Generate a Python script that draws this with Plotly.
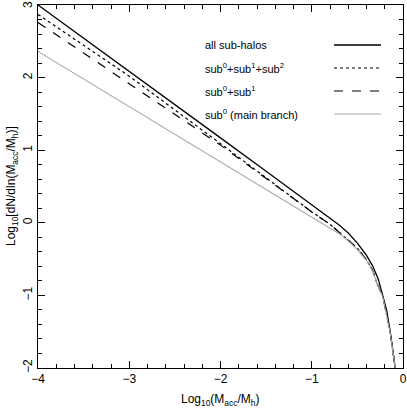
import plotly.graph_objects as go

# curves: log10(Macc/Mh) vs log10 dN/dln(Macc/Mh)
all_x = [-4.0, -3.0, -2.0, -1.5, -1.0, -0.8, -0.7, -0.6, -0.5, -0.4, -0.33, -0.27, -0.22, -0.18, -0.14, -0.11, -0.085]
all_y = [3.0, 2.09, 1.17, 0.71, 0.255, 0.07, -0.03, -0.14, -0.28, -0.45, -0.6, -0.78, -1.0, -1.2, -1.5, -1.75, -2.0]

sub012_x = [-4.0, -3.0, -2.0, -1.5, -1.0, -0.8, -0.62, -0.5, -0.4, -0.33, -0.29, -0.22, -0.14, -0.085]
sub012_y = [2.87, 2.02, 1.09, 0.62, 0.15, -0.02, -0.22, -0.35, -0.51, -0.66, -0.82, -1.02, -1.51, -2.0]

sub01_x = [-4.0, -3.0, -2.0, -1.5, -1.0, -0.8, -0.62, -0.5, -0.4, -0.33, -0.29, -0.22, -0.14, -0.085]
sub01_y = [2.76, 1.92, 1.07, 0.61, 0.15, -0.02, -0.22, -0.35, -0.51, -0.66, -0.82, -1.02, -1.51, -2.0]

sub0_x = [-4.0, -3.0, -2.0, -1.5, -1.0, -0.8, -0.7, -0.6, -0.5, -0.4, -0.33, -0.29, -0.22, -0.14, -0.085]
sub0_y = [2.36, 1.6, 0.84, 0.46, 0.08, -0.07, -0.15, -0.25, -0.37, -0.52, -0.67, -0.82, -1.03, -1.52, -2.0]

labels = ['all sub-halos', 'sub<sup>0</sup>+sub<sup>1</sup>+sub<sup>2</sup>',
	'sub<sup>0</sup>+sub<sup>1</sup>', 'sub<sup>0</sup> (main branch)']
styles = [('black', 'solid', 1.3), ('black', 'dot', 1.2), ('black', 'dash', 1.2), ('#aaaaaa', 'solid', 1.1)]

FONT = 'Liberation Sans'
L, T, W, H = 38, 5, 365, 363	# plot area in pixels


def px_x(p):
	return (p - L) / W


def px_y(p):
	return 1 - (p - T) / H


fig = go.Figure()
for (x, y), (c, d, w) in zip([(all_x, all_y), (sub012_x, sub012_y), (sub01_x, sub01_y), (sub0_x, sub0_y)], styles):
	fig.add_trace(go.Scatter(x=x, y=y, mode='lines', line={'color': c, 'dash': d, 'width': w}, showlegend=False))

# hand-made legend: text on the left, line sample on the right
for i, (lab, (c, d, w)) in enumerate(zip(labels, styles)):
	yy = px_y(45 + 23 * i)
	fig.add_annotation(text=lab, x=px_x(203), y=yy, xref='x domain', yref='y domain', showarrow=False,
		xanchor='left', yanchor='middle', font={'size': 11, 'color': 'black', 'family': FONT})
	fig.add_shape(type='line', xref='x domain', yref='y domain', x0=px_x(334), x1=px_x(381), y0=yy, y1=yy,
		line={'color': c, 'dash': d, 'width': w})

# axis titles as annotations so the margins stay fixed
fig.add_annotation(text='Log<sub>10</sub>(M<sub>acc</sub>/M<sub>h</sub>)', x=px_x(220), y=px_y(400),
	xref='x domain', yref='y domain', showarrow=False, xanchor='center', yanchor='middle',
	font={'size': 12, 'color': 'black', 'family': FONT})
fig.add_annotation(text='Log<sub>10</sub>[dN/dln(M<sub>acc</sub>/M<sub>h</sub>)]', x=px_x(12), y=px_y(186),
	xref='x domain', yref='y domain', showarrow=False, xanchor='center', yanchor='middle', textangle=-90,
	font={'size': 12, 'color': 'black', 'family': FONT})
# the top tick label gets dropped by plotly at the edge, so place it by hand
fig.add_annotation(text='3', x=px_x(28), y=3, xref='x domain', yref='y', showarrow=False,
	xanchor='center', yanchor='middle', textangle=-90, font={'size': 12, 'color': 'black', 'family': FONT})

axis = dict(
	showgrid=False, zeroline=False, showline=True, linecolor='black', linewidth=1, mirror='allticks',
	ticks='inside', ticklen=7, tickcolor='black', tickwidth=1, dtick=1, automargin=False,
	minor={'ticks': 'inside', 'ticklen': 4, 'dtick': 0.2, 'tickcolor': 'black'},
	tickfont={'size': 12, 'color': 'black', 'family': FONT},
)
fig.update_xaxes(**axis, range=[-4, 0], tick0=-4)
fig.update_yaxes(**axis, range=[-2, 3], tick0=-2, tickangle=-90)

fig.update_layout(
	width=407, height=415,
	margin={'l': L, 'r': 407 - L - W, 't': T, 'b': 415 - T - H},
	plot_bgcolor='white', paper_bgcolor='white',
)
fig.write_html('out.html', config={'displayModeBar': False}, post_script="document.body.style.margin = '0';")
